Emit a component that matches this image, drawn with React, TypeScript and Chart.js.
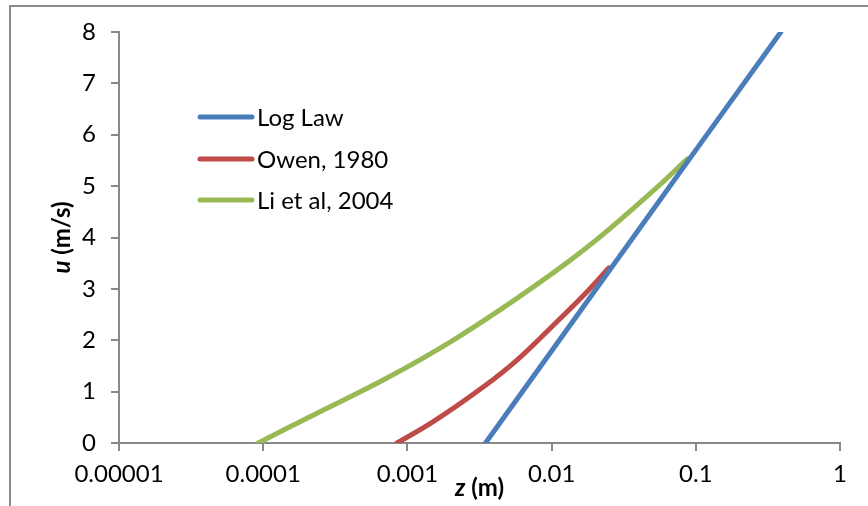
import React, { useEffect, useRef } from "react";
import { Chart, registerables } from "chart.js";

Chart.register(...registerables);

// Height above the surface z (m) and wind speed u (m/s) for each profile
const logLawZ = [0.00348, 0.01, 0.1, 0.389];
const logLawU = [0, 1.79, 5.7, 8.0];

const owenZ = [0.000847, 0.00152, 0.00339, 0.00578, 0.00984, 0.01675, 0.025];
const owenU = [0, 0.42, 1.1, 1.62, 2.24, 2.88, 3.41];

const liZ = [0.0000923, 0.000236, 0.000684, 0.00199, 0.00578, 0.01675, 0.0488, 0.0875];
const liU = [0, 0.58, 1.23, 1.97, 2.82, 3.76, 4.87, 5.53];

const seriesNames = ["Log Law", "Owen, 1980", "Li et al, 2004"];
const seriesColors = ["#4A7EBB", "#BE4B48", "#98B954"];

const xTickValues = [0.00001, 0.0001, 0.001, 0.01, 0.1, 1];
const xTickLabels = ["0.00001", "0.0001", "0.001", "0.01", "0.1", "1"];

const FONT = "Lato, 'Open Sans', sans-serif";
const FONT_SIZE = 24;
const AXIS_GRAY = "#898989";

const toPoints = (zs: number[], us: number[]) => zs.map((z, i) => ({ x: z, y: us[i] }));

const decorPlugin = {
  id: "decor",
  beforeDraw(chart: any) {
    const { ctx, width, height } = chart;
    ctx.save();
    ctx.fillStyle = "#fff";
    ctx.fillRect(0, 0, width, height);
    ctx.strokeStyle = AXIS_GRAY;
    ctx.lineWidth = 2;
    ctx.strokeRect(10, 6, width + 20, height + 20);
    ctx.restore();
  },
  afterDraw(chart: any) {
    const { ctx, chartArea } = chart;
    ctx.save();
    // legend inside the plot
    const legendY = [117, 159, 200];
    seriesNames.forEach((name, i) => {
      ctx.strokeStyle = seriesColors[i];
      ctx.lineWidth = 5;
      ctx.lineCap = "round";
      ctx.beginPath();
      ctx.moveTo(200, legendY[i]);
      ctx.lineTo(252, legendY[i]);
      ctx.stroke();
      ctx.fillStyle = "#000";
      ctx.font = `${FONT_SIZE}px ${FONT}`;
      ctx.textAlign = "left";
      ctx.textBaseline = "middle";
      ctx.fillText(name, 257, legendY[i] + 1);
    });

    // x axis title: italic z, then (m)
    const cx = (chartArea.left + chartArea.right) / 2;
    const partA = "z";
    const partB = " (m)";
    ctx.textBaseline = "middle";
    ctx.font = `italic bold ${FONT_SIZE}px ${FONT}`;
    const wA = ctx.measureText(partA).width;
    ctx.font = `bold ${FONT_SIZE}px ${FONT}`;
    const wB = ctx.measureText(partB).width;
    const x0 = cx - (wA + wB) / 2;
    ctx.textAlign = "left";
    ctx.font = `italic bold ${FONT_SIZE}px ${FONT}`;
    ctx.fillText(partA, x0, 488);
    ctx.font = `bold ${FONT_SIZE}px ${FONT}`;
    ctx.fillText(partB, x0 + wA, 488);

    // y axis title: italic u, then (m/s), rotated
    const cy = (chartArea.top + chartArea.bottom) / 2;
    ctx.translate(62, cy);
    ctx.rotate(-Math.PI / 2);
    const pA = "u";
    const pB = " (m/s)";
    ctx.font = `italic bold ${FONT_SIZE}px ${FONT}`;
    const vA = ctx.measureText(pA).width;
    ctx.font = `bold ${FONT_SIZE}px ${FONT}`;
    const vB = ctx.measureText(pB).width;
    const y0 = -(vA + vB) / 2;
    ctx.font = `italic bold ${FONT_SIZE}px ${FONT}`;
    ctx.fillText(pA, y0, 0);
    ctx.font = `bold ${FONT_SIZE}px ${FONT}`;
    ctx.fillText(pB, y0 + vA, 0);
    ctx.restore();
  },
};

export default function App() {
  const canvasRef = useRef<HTMLCanvasElement | null>(null);

  useEffect(() => {
    document.body.style.margin = "0";
    const canvas = canvasRef.current;
    if (!canvas) return;

    const lineStyle = (i: number) => ({
      borderColor: seriesColors[i],
      backgroundColor: seriesColors[i],
      borderWidth: 5,
      borderCapStyle: "round" as const,
      pointRadius: 0,
      fill: false,
      tension: 0.4,
    });

    const chart = new Chart(canvas, {
      type: "line",
      data: {
        datasets: [
          { label: seriesNames[0], data: toPoints(logLawZ, logLawU), ...lineStyle(0), tension: 0 },
          { label: seriesNames[1], data: toPoints(owenZ, owenU), ...lineStyle(1) },
          { label: seriesNames[2], data: toPoints(liZ, liU), ...lineStyle(2) },
        ],
      },
      options: {
        responsive: false,
        animation: false,
        layout: { padding: { left: 0, top: 32, right: 28, bottom: 0 } },
        plugins: {
          legend: { display: false },
          tooltip: { enabled: false },
        },
        scales: {
          x: {
            type: "logarithmic",
            min: xTickValues[0],
            max: xTickValues[xTickValues.length - 1],
            afterBuildTicks: (scale: any) => {
              scale.ticks = xTickValues.map((v) => ({ value: v, major: true }));
            },
            afterFit: (scale: any) => {
              scale.height = 63;
            },
            grid: {
              drawOnChartArea: false,
              drawTicks: true,
              tickLength: 8,
              color: AXIS_GRAY,
              lineWidth: 2,
            },
            border: { display: true, color: AXIS_GRAY, width: 2 },
            ticks: {
              autoSkip: false,
              maxRotation: 0,
              padding: 9,
              color: "#000",
              font: { family: FONT, size: FONT_SIZE },
              callback: (value: any) => {
                const idx = xTickValues.findIndex((v) => Math.abs(Math.log10(v) - Math.log10(value)) < 1e-6);
                return idx >= 0 ? xTickLabels[idx] : "";
              },
            },
          },
          y: {
            type: "linear",
            min: 0,
            max: 8,
            afterFit: (scale: any) => {
              scale.width = 119;
            },
            grid: {
              drawOnChartArea: false,
              drawTicks: true,
              tickLength: 8,
              color: AXIS_GRAY,
              lineWidth: 2,
            },
            border: { display: true, color: AXIS_GRAY, width: 2 },
            ticks: {
              stepSize: 1,
              padding: 15,
              color: "#000",
              font: { family: FONT, size: FONT_SIZE },
            },
          },
        },
      },
      plugins: [decorPlugin],
    });

    return () => chart.destroy();
  }, []);

  return <canvas ref={canvasRef} width={868} height={506} style={{ display: "block", width: 868, height: 506 }} />;
}
